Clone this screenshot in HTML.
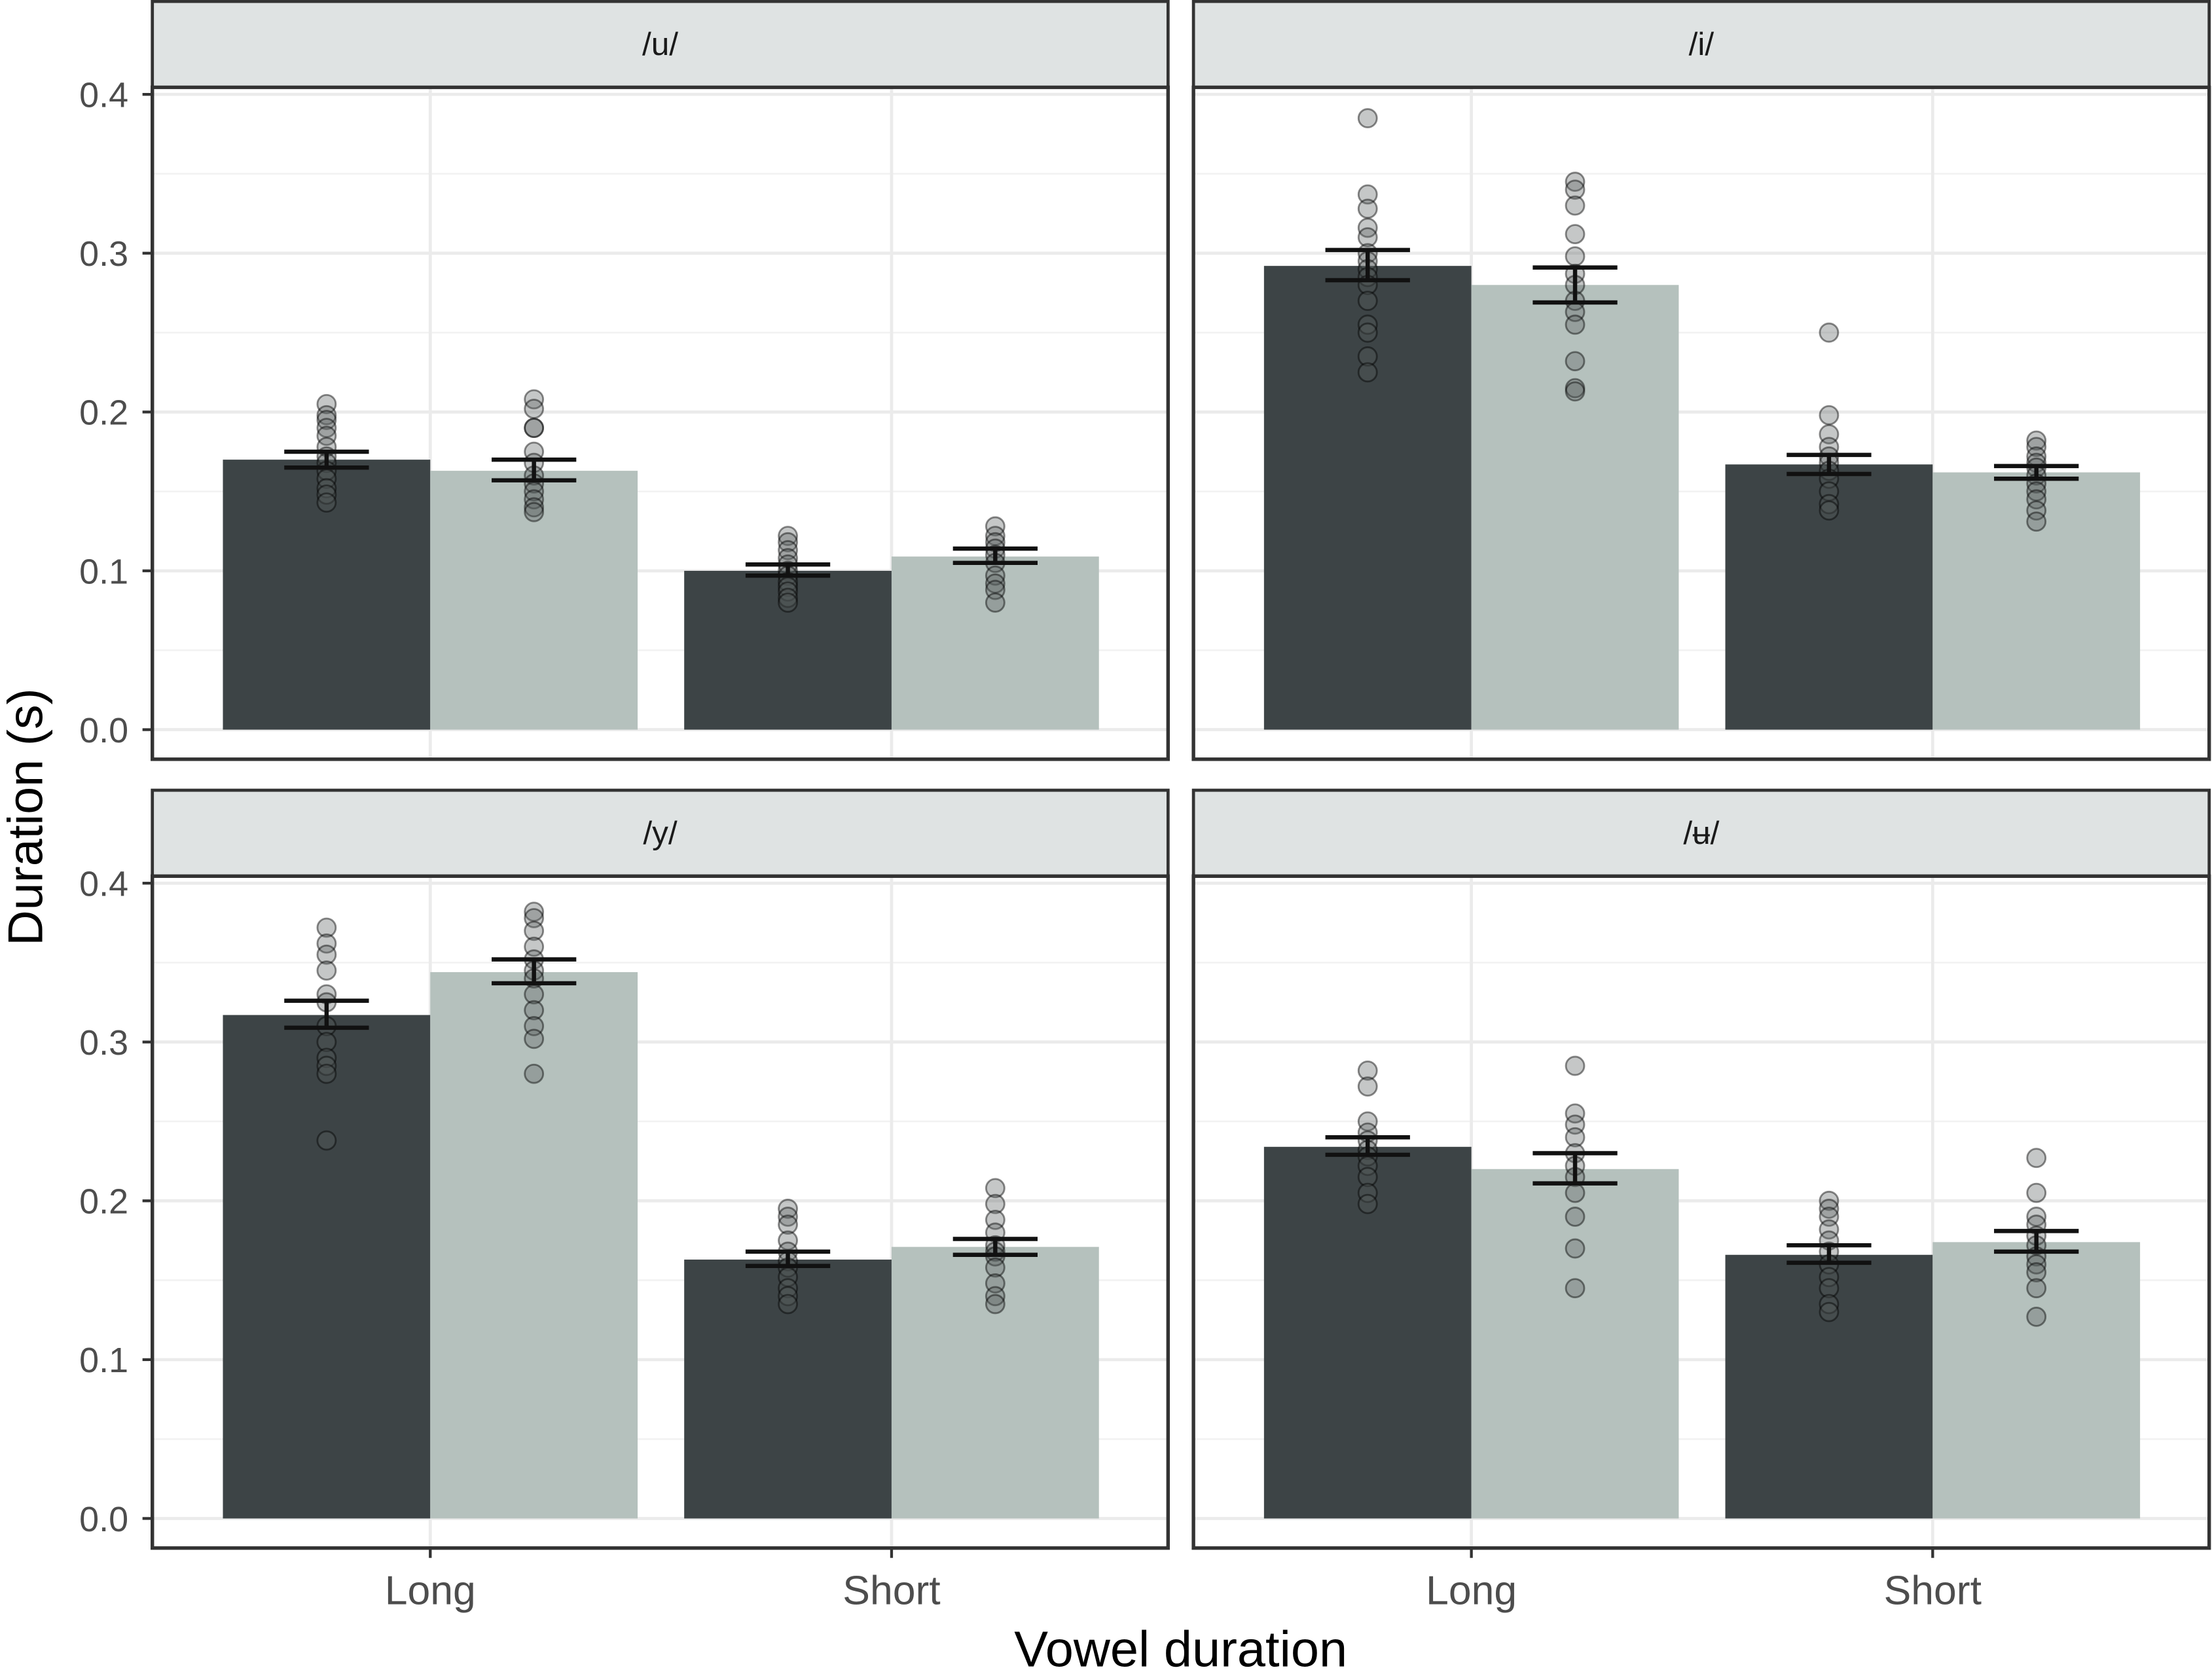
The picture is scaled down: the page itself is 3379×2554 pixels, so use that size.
<!DOCTYPE html>
<html><head><meta charset="utf-8"><style>
html,body{margin:0;padding:0;background:#fff}
svg{display:block}
text{font-family:"Liberation Sans",sans-serif}
</style></head><body>
<svg id="chart" width="3379" height="2554" viewBox="0 0 1568 1187" preserveAspectRatio="none" xmlns="http://www.w3.org/2000/svg"></svg>
<script>
const panels = ["/u/", "/i/", "/y/", "/ʉ/"];
const categories = ["Long", "Short"];
const yTicks = [0, 0.1, 0.2, 0.3, 0.4];
const yTickLabels = ["0.0", "0.1", "0.2", "0.3", "0.4"];
// means per panel: [LongDark, LongLight, ShortDark, ShortLight]
const means = [[0.170,0.163,0.100,0.109],[0.292,0.280,0.167,0.162],[0.317,0.344,0.163,0.171],[0.234,0.220,0.166,0.174]];
const errLow = [[0.165,0.157,0.097,0.105],[0.283,0.269,0.161,0.158],[0.309,0.337,0.159,0.166],[0.229,0.211,0.161,0.168]];
const errHigh = [[0.175,0.170,0.104,0.114],[0.302,0.291,0.173,0.166],[0.326,0.352,0.168,0.176],[0.240,0.230,0.172,0.181]];
const pointsU = [[0.205,0.198,0.195,0.19,0.185,0.178,0.172,0.168,0.163,0.158,0.152,0.148,0.143],[0.208,0.202,0.19,0.19,0.175,0.168,0.16,0.155,0.15,0.145,0.14,0.137],[0.122,0.118,0.113,0.108,0.104,0.1,0.097,0.093,0.09,0.087,0.083,0.08],[0.128,0.122,0.118,0.114,0.11,0.105,0.097,0.092,0.088,0.08]];
const pointsI = [[0.385,0.337,0.328,0.316,0.31,0.3,0.295,0.29,0.285,0.28,0.27,0.255,0.25,0.235,0.225],[0.345,0.34,0.33,0.312,0.298,0.287,0.28,0.27,0.263,0.255,0.232,0.215,0.213],[0.25,0.198,0.186,0.178,0.172,0.168,0.163,0.158,0.15,0.142,0.138],[0.182,0.178,0.172,0.168,0.165,0.16,0.155,0.15,0.145,0.138,0.131]];
const pointsY = [[0.372,0.362,0.355,0.345,0.33,0.325,0.31,0.3,0.29,0.285,0.28,0.238],[0.382,0.378,0.37,0.36,0.352,0.345,0.34,0.33,0.32,0.31,0.302,0.28],[0.195,0.19,0.185,0.175,0.168,0.162,0.158,0.152,0.145,0.14,0.135],[0.208,0.198,0.188,0.18,0.172,0.168,0.165,0.158,0.148,0.14,0.135]];
const pointsUu = [[0.282,0.272,0.25,0.243,0.238,0.232,0.228,0.222,0.215,0.205,0.198],[0.285,0.255,0.248,0.24,0.23,0.222,0.215,0.205,0.19,0.17,0.145],[0.2,0.195,0.19,0.182,0.175,0.168,0.16,0.152,0.145,0.135,0.13],[0.227,0.205,0.19,0.185,0.178,0.172,0.165,0.16,0.155,0.145,0.127]];
const allPoints = [pointsU, pointsI, pointsY, pointsUu];

const svg = document.getElementById('chart');
const NS = "http://www.w3.org/2000/svg";
function mk(tag, attrs, parent){const e=document.createElementNS(NS,tag);for(const k in attrs)e.setAttribute(k,attrs[k]);(parent||svg).appendChild(e);return e;}

const layout = [{x0:108,y0:0},{x0:846,y0:0},{x0:108,y0:560},{x0:846,y0:560}];
const PW=720, PH=539, STRIP=62;
const barColors=["#3d4446","#b5c1bd"];

panels.forEach((name,p)=>{
  const {x0,y0}=layout[p];
  const yZero=y0+518, yTop=y0+67;
  const yScale=v=>yZero-(v/0.4)*(yZero-yTop);
  const xCenter=c=>x0+197+c*327;
  const g=mk('g',{});
  
  
  for(let v=0.05;v<0.4;v+=0.1){const l=mk('line',{x1:x0,x2:x0+PW,y1:yScale(v),y2:yScale(v),stroke:'#f2f2f2','stroke-width':1.2},g);}
  yTicks.forEach(v=>{const l=mk('line',{x1:x0,x2:x0+PW,y1:yScale(v),y2:yScale(v),stroke:'#ebebeb','stroke-width':2.2},g);});
  categories.forEach((c,ci)=>{const l=mk('line',{x1:xCenter(ci),x2:xCenter(ci),y1:y0+STRIP,y2:y0+PH,stroke:'#ebebeb','stroke-width':2.2},g);});
  for(let k=0;k<4;k++){
    const ci=Math.floor(k/2), s=k%2;
    const bx=xCenter(ci)-147+s*147;
    const r=mk('rect',{x:bx,y:yScale(means[p][k]),width:147,height:yZero-yScale(means[p][k]),fill:barColors[s]},g);
    
    
    const cx=bx+73.5;
    allPoints[p][k].forEach(v=>{const c=mk('circle',{cx:cx,cy:yScale(v),r:6.5,fill:'rgba(90,95,95,0.35)',stroke:'rgba(0,0,0,0.45)','stroke-width':1.3},g);});
    const eb=mk('path',{d:`M${cx-30},${yScale(errHigh[p][k])}H${cx+30}M${cx},${yScale(errHigh[p][k])}V${yScale(errLow[p][k])}M${cx-30},${yScale(errLow[p][k])}H${cx+30}`,stroke:'#111','stroke-width':3,fill:'none'},g);
    
    
  }
  const st=mk('rect',{x:x0,y:y0+1,width:PW,height:STRIP-1,fill:'#dfe3e3',stroke:'#333','stroke-width':2.2},g);
  
  
  const tt=mk('text',{x:x0+PW/2,y:y0+39,'text-anchor':'middle','font-size':23,fill:'#1a1a1a'},g);
  tt.textContent=name;
  
  
  const bd=mk('rect',{x:x0,y:y0+STRIP,width:PW,height:PH-STRIP,fill:'none',stroke:'#333','stroke-width':2.5},g);
  
  
  if(p%2===0){
    yTicks.forEach((v,i)=>{
      mk('line',{x1:x0-7,x2:x0,y1:yScale(v),y2:yScale(v),stroke:'#333','stroke-width':2},g);
      const t=mk('text',{x:x0-17,y:yScale(v)+9,'text-anchor':'end','font-size':25,fill:'#4d4d4d'},g);
      t.textContent=yTickLabels[i];
      
      
    });
  }
  if(p>=2){
    categories.forEach((c,ci)=>{
      mk('line',{x1:xCenter(ci),x2:xCenter(ci),y1:y0+PH,y2:y0+PH+7,stroke:'#333','stroke-width':2},g);
      const t=mk('text',{x:xCenter(ci),y:y0+PH+40,'text-anchor':'middle','font-size':29,fill:'#4d4d4d'},g);
      t.textContent=c;
      
      
    });
  }
});
const xt=mk('text',{x:837,y:1183,'text-anchor':'middle','font-size':36,fill:'#000'});
xt.textContent='Vowel duration';


const yt=mk('text',{x:0,y:0,transform:'translate(30,580) rotate(-90)','text-anchor':'middle','font-size':35,fill:'#000'});
yt.textContent='Duration (s)';


</script>
</body></html>
